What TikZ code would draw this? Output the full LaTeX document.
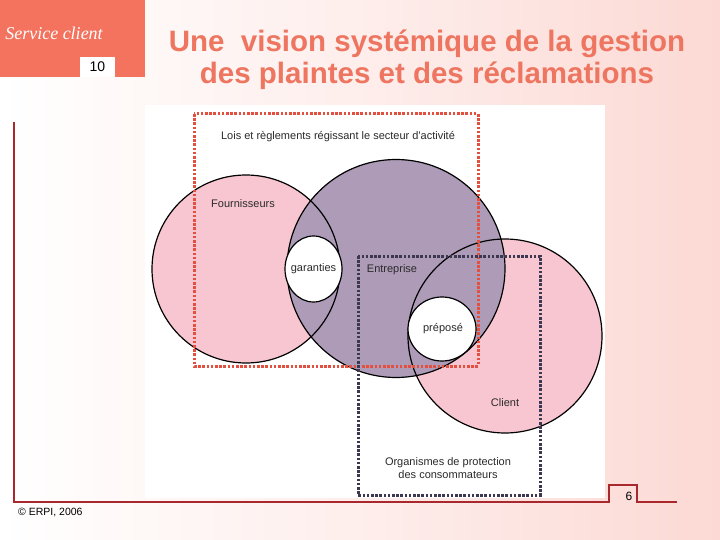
\documentclass[tikz,border=0pt]{standalone}
\usepackage{fontspec}
\newfontfamily\arial{Liberation Sans}
\newfontfamily\scriptf{Liberation Serif}
\definecolor{coral}{HTML}{F4735E}
\definecolor{titlecol}{HTML}{EE7560}
\definecolor{bgpink}{HTML}{FCD9D4}
\definecolor{framered}{HTML}{A8282E}
\definecolor{pinkfill}{HTML}{F8C6D0}
\definecolor{purplefill}{HTML}{AD9BB7}
\definecolor{dotred}{HTML}{E4503F}
\definecolor{dotdark}{HTML}{3C3852}
\definecolor{labelcol}{HTML}{2A2A2A}
\tikzset{
  venn/.style={draw=black, line width=1.2pt},
  dotbox/.style={line width=3pt, dash pattern=on 2.6pt off 1.6pt},
  lbl/.style={text=labelcol, font=\arial\fontsize{11}{13}\selectfont, inner sep=0pt, align=center},
}
\begin{document}
\begin{tikzpicture}[x=1pt,y=-1pt]
\useasboundingbox (0,0) rectangle (720,540);
% background
\shade[left color=white, right color=bgpink, middle color=bgpink!45] (0,0) rectangle (720,540);
% header box
\fill[coral] (0,0) rectangle (145,77);
\node[text=white, font=\scriptf\itshape\fontsize{18}{20}\selectfont, inner sep=0pt] (service) at (54,33) {Service client};
\node[fill=white, minimum width=35pt, minimum height=20pt, inner sep=0pt, font=\arial\fontsize{14}{16}\selectfont] (num) at (97.5,67) {10};
% title
\node[text=titlecol, font=\arial\bfseries\fontsize{29.5}{32}\selectfont, align=center, inner sep=0pt] (title) at (427,60) {Une\ \ vision systémique de la gestion\\des plaintes et des réclamations};
% frame lines
\draw[framered, line width=1.2pt] (14,122) -- (14,502) -- (609,502) -- (609,485) -- (637,485) -- (637,502) -- (677,502);
\node[font=\arial\fontsize{12}{14}\selectfont, inner sep=0pt] (page) at (629,496) {6};
\node[font=\arial\fontsize{10.5}{12}\selectfont, anchor=west, inner sep=0pt] (copy) at (18,513) {© ERPI, 2006};
% diagram panel
\fill[white] (145,105) rectangle (605,498);
% circles
\fill[pinkfill] (246,269) circle (94);
\fill[pinkfill] (505,336) circle (97);
\fill[purplefill] (396,268.5) circle (109);
\draw[venn] (246,269) circle (94);
\draw[venn] (505,336) circle (97);
\draw[venn] (396,268.5) circle (109);
% dotted boxes
\draw[dotbox, dotred] (194,114) rectangle (478,366);
\draw[dotbox, dotdark] (358,256) rectangle (540,495);
% white ellipses
\draw[venn, fill=white] (313.5,269) ellipse [x radius=28.5, y radius=33];
\draw[venn, fill=white] (442,329) ellipse [x radius=34, y radius=32];
% labels
\node[lbl] (lois) at (338,137) {Lois et règlements régissant le secteur d'activité};
\node[lbl] (fourn) at (243,204) {Fournisseurs};
\node[lbl] (gar) at (313.5,269) {garanties};
\node[lbl] (entr) at (392,270) {Entreprise};
\node[lbl] (prep) at (443,329) {préposé};
\node[lbl] (client) at (505,403) {Client};
\node[lbl, align=center] (org) at (448,468) {Organismes de protection\\[0pt]des consommateurs};
\end{tikzpicture}
\end{document}
